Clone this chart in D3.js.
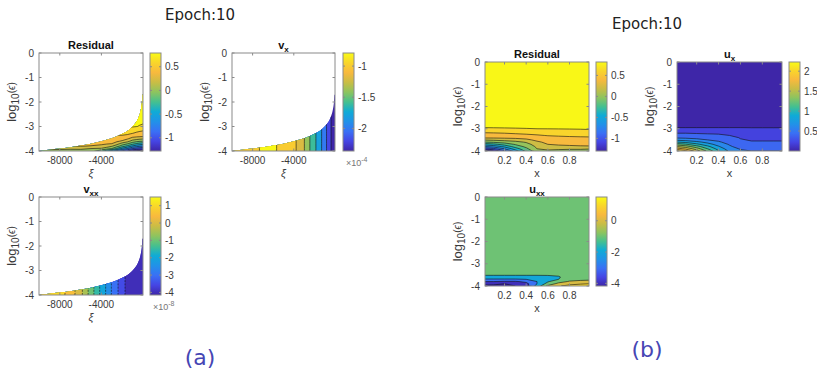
<!DOCTYPE html>
<html>
<head>
<meta charset="utf-8">
<script src="https://cdn.jsdelivr.net/npm/d3@7"></script>
<style>
  body { margin: 0; background: #fff; }
  svg { display: block; font-family: "Liberation Sans", Arial, sans-serif; }
</style>
</head>
<body>
<svg id="chart" width="817" height="371"></svg>
<script>
// parula colour stops (MATLAB default map)
const parula = ["#3e26a8", "#4545e4", "#3a70f5", "#2192e8", "#0fabd6", "#45c08f", "#8dc45f", "#c9bd45", "#f8b93e", "#f9d52b", "#f9fb15"];

// ---- panel (a): stretched variable xi ----
const xiGrid = [-10000, -9000, -8000, -7000, -6000, -5000, -4000, -3500, -3000, -2500, -2000, -1500, -1000, -600, -300, 0];
const epsGridA = [0, -2, -2.8, -3.0, -3.1, -3.2, -3.3, -3.4, -3.5, -3.6, -3.7, -3.8, -3.9, -4];
// left edge of the stretched domain (xi, log10 eps)
const edgeXi = [-10000, -9000, -8000, -7000, -6000, -5000, -4000, -3000, -2000, -1500, -1000, -700, -500, -300, -200, -100, -50, 0];
const edgeEps = [-4, -3.95, -3.9, -3.85, -3.78, -3.7, -3.6, -3.48, -3.3, -3.18, -3.0, -2.85, -2.7, -2.48, -2.3, -2.0, -1.7, -1.7];

const residualA = [
  [0.82, 0.82, 0.82, 0.82, 0.82, 0.82, 0.82, 0.82, 0.82, 0.82, 0.82, 0.82, 0.82, 0.82, 0.82, 0.82],
  [0.82, 0.82, 0.82, 0.82, 0.82, 0.82, 0.82, 0.82, 0.82, 0.82, 0.82, 0.82, 0.82, 0.82, 0.82, 0.82],
  [0.81, 0.81, 0.81, 0.81, 0.81, 0.81, 0.81, 0.81, 0.81, 0.81, 0.81, 0.81, 0.81, 0.81, 0.81, 0.81],
  [0.805, 0.805, 0.805, 0.805, 0.805, 0.805, 0.805, 0.805, 0.805, 0.805, 0.805, 0.805, 0.805, 0.801, 0.796, 0.79],
  [0.79, 0.79, 0.79, 0.79, 0.79, 0.79, 0.79, 0.79, 0.79, 0.79, 0.79, 0.79, 0.78, 0.757, 0.735, 0.72],
  [0.71, 0.71, 0.71, 0.71, 0.71, 0.71, 0.71, 0.71, 0.71, 0.71, 0.71, 0.71, 0.68, 0.63, 0.6, 0.57],
  [0.64, 0.64, 0.64, 0.64, 0.64, 0.64, 0.64, 0.64, 0.64, 0.64, 0.64, 0.625, 0.58, 0.53, 0.505, 0.5],
  [0.58, 0.58, 0.58, 0.58, 0.58, 0.58, 0.58, 0.58, 0.58, 0.575, 0.57, 0.54, 0.46, 0.44, 0.43, 0.42],
  [0.53, 0.53, 0.53, 0.53, 0.53, 0.53, 0.53, 0.53, 0.525, 0.51, 0.49, 0.42, 0.31, 0.27, 0.24, 0.22],
  [0.5, 0.5, 0.5, 0.5, 0.5, 0.5, 0.49, 0.48, 0.465, 0.43, 0.37, 0.27, 0.11, 0.05, 0.02, 0.0],
  [0.47, 0.47, 0.47, 0.47, 0.47, 0.46, 0.44, 0.42, 0.4, 0.28, 0.12, 0.02, -0.12, -0.22, -0.27, -0.3],
  [0.42, 0.42, 0.42, 0.42, 0.41, 0.39, 0.35, 0.3, 0.22, 0.08, -0.1, -0.25, -0.43, -0.52, -0.57, -0.6],
  [0.25, 0.25, 0.23, 0.22, 0.22, 0.2, 0.18, 0.1, 0.0, -0.22, -0.45, -0.6, -0.8, -0.88, -0.92, -0.95],
  [0.13, 0.14, 0.15, 0.15, 0.16, 0.12, -0.15, -0.32, -0.5, -0.68, -0.85, -1.0, -1.2, -1.25, -1.28, -1.3]
];
// v_x and v_xx only change along xi (x 1e-4 and x 1e-8)
const vxProfile = [-0.9, -0.85, -0.81, -0.795, -0.79, -0.82, -0.95, -1.06, -1.19, -1.38, -1.55, -1.72, -1.92, -2.1, -2.24, -2.36];
const vxxProfile = [1.5, 1.4, 1.2, 0.8, 0.15, -0.75, -1.65, -2.08, -2.54, -2.92, -3.32, -3.65, -3.85, -3.95, -3.98, -3.99];

// ---- panel (b): original variable x ----
const xGridB = [0.02, 0.1, 0.2, 0.3, 0.4, 0.5, 0.6, 0.7, 0.8, 0.9, 0.98];
const epsGridB = [0, -1, -2, -2.6, -2.9, -3.0, -3.1, -3.2, -3.3, -3.4, -3.5, -3.6, -3.7, -3.8, -3.9, -4];

const residualB = [
  [0.82, 0.82, 0.82, 0.82, 0.82, 0.82, 0.82, 0.82, 0.82, 0.82, 0.82],
  [0.82, 0.82, 0.82, 0.82, 0.82, 0.82, 0.82, 0.82, 0.82, 0.82, 0.82],
  [0.82, 0.82, 0.82, 0.82, 0.82, 0.82, 0.82, 0.82, 0.82, 0.82, 0.82],
  [0.82, 0.82, 0.82, 0.82, 0.82, 0.82, 0.82, 0.82, 0.82, 0.82, 0.82],
  [0.81, 0.81, 0.81, 0.81, 0.81, 0.81, 0.81, 0.81, 0.81, 0.81, 0.81],
  [0.79, 0.792, 0.794, 0.796, 0.798, 0.80, 0.801, 0.802, 0.803, 0.804, 0.805],
  [0.72, 0.725, 0.73, 0.74, 0.75, 0.76, 0.77, 0.775, 0.78, 0.785, 0.79],
  [0.57, 0.58, 0.6, 0.62, 0.64, 0.66, 0.68, 0.69, 0.7, 0.71, 0.72],
  [0.5, 0.5, 0.51, 0.53, 0.55, 0.58, 0.61, 0.62, 0.63, 0.64, 0.64],
  [0.43, 0.43, 0.44, 0.45, 0.46, 0.5, 0.54, 0.56, 0.57, 0.575, 0.58],
  [0.22, 0.24, 0.27, 0.3, 0.36, 0.44, 0.48, 0.5, 0.51, 0.52, 0.53],
  [0.0, 0.03, 0.08, 0.14, 0.22, 0.37, 0.44, 0.46, 0.47, 0.48, 0.49],
  [-0.3, -0.25, -0.12, 0.02, 0.12, 0.3, 0.4, 0.42, 0.43, 0.44, 0.45],
  [-0.6, -0.52, -0.35, -0.12, 0.05, 0.24, 0.34, 0.36, 0.37, 0.38, 0.38],
  [-0.95, -0.85, -0.6, -0.3, -0.05, 0.2, 0.25, 0.23, 0.22, 0.22, 0.21],
  [-1.3, -1.2, -0.85, -0.5, -0.15, 0.12, 0.16, 0.15, 0.14, 0.14, 0.13]
];
const uxB = [
  [0.03, 0.03, 0.03, 0.03, 0.03, 0.03, 0.03, 0.03, 0.03, 0.03, 0.03],
  [0.03, 0.03, 0.03, 0.03, 0.03, 0.03, 0.03, 0.03, 0.03, 0.03, 0.03],
  [0.03, 0.03, 0.03, 0.03, 0.03, 0.03, 0.03, 0.03, 0.03, 0.03, 0.03],
  [0.04, 0.04, 0.04, 0.04, 0.04, 0.04, 0.04, 0.04, 0.04, 0.04, 0.04],
  [0.15, 0.15, 0.15, 0.15, 0.15, 0.15, 0.15, 0.15, 0.15, 0.15, 0.15],
  [0.25, 0.25, 0.25, 0.25, 0.25, 0.25, 0.25, 0.24, 0.24, 0.24, 0.24],
  [0.32, 0.32, 0.31, 0.31, 0.3, 0.3, 0.29, 0.28, 0.28, 0.28, 0.28],
  [0.4, 0.4, 0.39, 0.38, 0.37, 0.35, 0.33, 0.31, 0.31, 0.31, 0.31],
  [0.47, 0.47, 0.46, 0.45, 0.44, 0.4, 0.36, 0.34, 0.34, 0.34, 0.34],
  [0.57, 0.56, 0.54, 0.52, 0.5, 0.45, 0.39, 0.37, 0.37, 0.37, 0.37],
  [0.75, 0.72, 0.66, 0.6, 0.55, 0.48, 0.41, 0.39, 0.39, 0.39, 0.39],
  [1.0, 0.95, 0.85, 0.74, 0.63, 0.52, 0.44, 0.41, 0.41, 0.41, 0.41],
  [1.3, 1.22, 1.05, 0.88, 0.72, 0.58, 0.47, 0.44, 0.44, 0.44, 0.44],
  [1.6, 1.5, 1.28, 1.05, 0.82, 0.63, 0.52, 0.49, 0.49, 0.49, 0.49],
  [1.9, 1.75, 1.5, 1.2, 0.92, 0.7, 0.58, 0.55, 0.55, 0.55, 0.55],
  [2.23, 2.05, 1.7, 1.35, 1.02, 0.76, 0.64, 0.6, 0.6, 0.6, 0.6]
];
const uxxB = [
  [-0.05, -0.05, -0.05, -0.05, -0.05, -0.05, -0.05, -0.05, -0.05, -0.05, -0.05],
  [-0.05, -0.05, -0.05, -0.05, -0.05, -0.05, -0.05, -0.05, -0.05, -0.05, -0.05],
  [-0.05, -0.05, -0.05, -0.05, -0.05, -0.05, -0.05, -0.05, -0.05, -0.05, -0.05],
  [-0.05, -0.05, -0.05, -0.05, -0.05, -0.05, -0.05, -0.05, -0.05, -0.05, -0.05],
  [-0.05, -0.05, -0.05, -0.05, -0.05, -0.05, -0.05, -0.05, -0.05, -0.05, -0.05],
  [-0.05, -0.05, -0.05, -0.05, -0.05, -0.05, -0.05, -0.05, -0.05, -0.05, -0.05],
  [-0.05, -0.05, -0.05, -0.05, -0.05, -0.05, -0.05, -0.05, -0.05, -0.05, -0.05],
  [-0.05, -0.05, -0.05, -0.05, -0.05, -0.05, -0.05, -0.05, -0.05, -0.05, -0.05],
  [-0.1, -0.1, -0.1, -0.1, -0.1, -0.1, -0.1, -0.1, -0.1, -0.1, -0.1],
  [-0.3, -0.3, -0.3, -0.3, -0.3, -0.3, -0.3, -0.3, -0.2, -0.15, -0.15],
  [-0.9, -0.9, -0.9, -0.9, -0.9, -0.9, -0.9, -0.85, -0.4, -0.3, -0.25],
  [-1.4, -1.4, -1.4, -1.4, -1.4, -1.4, -1.3, -1.1, -0.5, -0.35, -0.3],
  [-2.1, -2.1, -2.1, -2.1, -2.0, -1.8, -1.3, -1.0, -0.4, -0.2, -0.15],
  [-3.0, -3.0, -3.1, -3.1, -2.8, -2.0, -1.1, -0.4, 0.1, 0.2, 0.25],
  [-3.8, -3.9, -4.0, -4.0, -3.3, -2.0, -0.6, 0.3, 0.7, 0.9, 1.0],
  [-4.17, -4.1, -4.1, -4.0, -3.4, -1.6, 0.2, 0.9, 1.3, 1.5, 1.52]
];

// contour levels and colour limits
const residualLevels = [-1.2, -1.0, -0.8, -0.6, -0.4, -0.2, 0, 0.2, 0.4, 0.6, 0.8];
const vxLevels = [-2.2, -2.0, -1.8, -1.6, -1.4, -1.2, -1.0, -0.8];
const vxxLevels = [-4, -3.5, -3, -2.5, -2, -1.5, -1, -0.5, 0, 0.5, 1];
const uxLevels = [0.2, 0.4, 0.6, 0.8, 1.0, 1.2, 1.4, 1.6, 1.8, 2.0, 2.2];
const uxxLevels = [-4, -3, -2, -1, 0, 1];

const svg = d3.select("#chart");
const cmap = d3.piecewise(d3.interpolateRgb, parula);
const axisGrey = "#8a8a8a";
const textGrey = "#3a3a3a";

// gradient used by every colorbar
const grad = svg.append("defs").append("linearGradient")
  .attr("id", "parulaGrad").attr("x1", 0).attr("y1", 1).attr("x2", 0).attr("y2", 0);
parula.forEach((c, i) => grad.append("stop").attr("offset", i / (parula.length - 1)).attr("stop-color", c));

let clipCount = 0;

function drawPanel(p) {
  const g = svg.append("g");
  const x = d3.scaleLinear().domain(p.xDomain).range([p.x0, p.x1]);
  const y = d3.scaleLinear().domain([-4, 0]).range([p.y1, p.y0]);
  const color = d3.scaleSequential(cmap).domain(p.cRange).clamp(true);

  // grid index -> data position (value k sits at k + 0.5 in d3.contours space)
  const gx = d3.scaleLinear().domain(p.xs.map((_, i) => i + 0.5)).range(p.xs.map(v => x(v)));
  const gy = d3.scaleLinear().domain(p.ys.map((_, j) => j + 0.5)).range(p.ys.map(v => y(v)));
  const path = d3.geoPath(d3.geoTransform({
    point(a, b) { this.stream.point(gx(a), gy(b)); }
  }));

  const id = "clip" + (clipCount++);
  const cp = svg.select("defs").append("clipPath").attr("id", id);
  if (p.edge) {
    const pts = p.edge.xi.map((v, i) => [x(v), y(p.edge.eps[i])]);
    pts.push([x(0), y(-4)]);
    cp.append("path").attr("d", d3.line().curve(d3.curveMonotoneX)(pts.slice(0, -1)) + "L" + pts[pts.length - 1].join(",") + "Z");
  } else {
    cp.append("rect").attr("x", p.x0).attr("y", p.y0).attr("width", p.x1 - p.x0).attr("height", p.y1 - p.y0);
  }

  const contours = d3.contours().size([p.xs.length, p.ys.length]).thresholds(p.levels)(p.z.flat());

  const body = g.append("g").attr("clip-path", `url(#${id})`);
  body.append("rect").attr("x", p.x0).attr("y", p.y0).attr("width", p.x1 - p.x0).attr("height", p.y1 - p.y0)
    .attr("fill", color(p.cRange[0]));
  body.selectAll("path.band").data(contours).join("path").attr("class", "band")
    .attr("d", path).attr("fill", d => color(d.value)).attr("stroke", "none");
  body.selectAll("path.iso").data(contours).join("path").attr("class", "iso")
    .attr("d", path).attr("fill", "none").attr("stroke", "#111").attr("stroke-width", 0.6)
    .attr("stroke-dasharray", p.dashed ? "2,1.2" : null);

  // box with inward ticks
  g.append("rect").attr("x", p.x0).attr("y", p.y0).attr("width", p.x1 - p.x0).attr("height", p.y1 - p.y0)
    .attr("fill", "none").attr("stroke", axisGrey).attr("stroke-width", 1);
  const tl = 2.5;
  p.xTicks.forEach(t => {
    g.append("line").attr("x1", x(t)).attr("x2", x(t)).attr("y1", p.y1).attr("y2", p.y1 - tl).attr("stroke", axisGrey);
    g.append("line").attr("x1", x(t)).attr("x2", x(t)).attr("y1", p.y0).attr("y2", p.y0 + tl).attr("stroke", axisGrey);
    g.append("text").attr("x", x(t)).attr("y", p.y1 + 13).attr("text-anchor", "middle")
      .attr("font-size", 10).attr("fill", textGrey).text(String(t));
  });
  const yTicks = [0, -1, -2, -3, -4];
  yTicks.forEach(t => {
    g.append("line").attr("x1", p.x0).attr("x2", p.x0 + tl).attr("y1", y(t)).attr("y2", y(t)).attr("stroke", axisGrey);
    g.append("line").attr("x1", p.x1).attr("x2", p.x1 - tl).attr("y1", y(t)).attr("y2", y(t)).attr("stroke", axisGrey);
    g.append("text").attr("x", p.x0 - 5).attr("y", y(t)).attr("dy", "0.35em").attr("text-anchor", "end")
      .attr("font-size", 10).attr("fill", textGrey).text(String(t));
  });

  // labels
  const xl = g.append("text").attr("x", (p.x0 + p.x1) / 2).attr("y", p.y1 + 26).attr("text-anchor", "middle")
    .attr("font-size", 11).attr("fill", textGrey).text(p.xLabel);
  if (p.xLabel === "\u03be") xl.attr("font-style", "italic");
  const yl = g.append("text").attr("transform", `translate(${p.x0 - 23},${(p.y0 + p.y1) / 2}) rotate(-90)`)
    .attr("text-anchor", "middle").attr("font-size", 13).attr("fill", textGrey);
  yl.append("tspan").text("log");
  yl.append("tspan").attr("font-size", 10).attr("dy", 3).text("10");
  yl.append("tspan").attr("font-size", 10).attr("dy", -4).text("(");
  yl.append("tspan").attr("font-size", 10).attr("font-style", "italic").text("\u03f5");
  yl.append("tspan").attr("font-size", 10).text(")");

  const tt = g.append("text").attr("x", (p.x0 + p.x1) / 2).attr("y", p.y0 - 4).attr("text-anchor", "middle")
    .attr("font-size", 11).attr("font-weight", "bold").attr("fill", "#111");
  tt.append("tspan").text(p.title);
  if (p.sub) tt.append("tspan").attr("font-size", 8).attr("dy", 3).text(p.sub);

  // colorbar
  const cy = d3.scaleLinear().domain(p.cRange).range([p.y1, p.y0]);
  g.append("rect").attr("x", p.cb0).attr("y", p.y0).attr("width", p.cb1 - p.cb0).attr("height", p.y1 - p.y0)
    .attr("fill", "url(#parulaGrad)").attr("stroke", axisGrey).attr("stroke-width", 1);
  p.cTicks.forEach(t => {
    g.append("line").attr("x1", p.cb1).attr("x2", p.cb1 - 2).attr("y1", cy(t)).attr("y2", cy(t)).attr("stroke", axisGrey);
    g.append("line").attr("x1", p.cb0).attr("x2", p.cb0 + 2).attr("y1", cy(t)).attr("y2", cy(t)).attr("stroke", axisGrey);
    g.append("text").attr("x", p.cb1 + 4).attr("y", cy(t)).attr("dy", "0.35em")
      .attr("font-size", 10).attr("fill", textGrey).text(String(t));
  });
  if (p.cExp) {
    const ex = g.append("text").attr("x", p.cb0 + 3).attr("y", p.y1 + 15)
      .attr("font-size", 9).attr("fill", "#777");
    ex.append("tspan").text("\u00d710");
    ex.append("tspan").attr("font-size", 7).attr("dy", -4).text(p.cExp);
  }
}

const rowsOf = prof => epsGridA.map(() => prof.slice());

const panels = [
  { x0: 39, x1: 143, y0: 53, y1: 151, cb0: 150, cb1: 161, xDomain: [-10000, 0], xs: xiGrid, ys: epsGridA,
    z: residualA, levels: residualLevels, cRange: [-1.28, 0.79], cTicks: [-1, -0.5, 0, 0.5],
    edge: { xi: edgeXi, eps: edgeEps }, xTicks: [-8000, -4000], xLabel: "\u03be", title: "Residual" },
  { x0: 232, x1: 335, y0: 53, y1: 151, cb0: 343, cb1: 354, xDomain: [-10000, 0], xs: xiGrid, ys: epsGridA,
    z: rowsOf(vxProfile), levels: vxLevels, cRange: [-2.36, -0.79], cTicks: [-2, -1.5, -1], cExp: "-4",
    edge: { xi: edgeXi, eps: edgeEps }, xTicks: [-8000, -4000], xLabel: "\u03be", title: "v", sub: "x" },
  { x0: 39, x1: 143, y0: 197, y1: 295, cb0: 150, cb1: 161, xDomain: [-10000, 0], xs: xiGrid, ys: epsGridA,
    z: rowsOf(vxxProfile), levels: vxxLevels, cRange: [-4.15, 1.5], cTicks: [-4, -3, -2, -1, 0, 1], cExp: "-8",
    edge: { xi: edgeXi, eps: edgeEps }, xTicks: [-8000, -4000], xLabel: "\u03be", title: "v", sub: "xx", dashed: true },
  { x0: 485, x1: 589, y0: 62, y1: 151, cb0: 596, cb1: 607, xDomain: [0.02, 0.98], xs: xGridB, ys: epsGridB,
    z: residualB, levels: residualLevels, cRange: [-1.3, 0.82], cTicks: [-1, -0.5, 0, 0.5],
    xTicks: [0.2, 0.4, 0.6, 0.8], xLabel: "x", title: "Residual" },
  { x0: 677, x1: 782, y0: 62, y1: 151, cb0: 789, cb1: 800, xDomain: [0.02, 0.98], xs: xGridB, ys: epsGridB,
    z: uxB, levels: uxLevels, cRange: [0.0, 2.23], cTicks: [0.5, 1, 1.5, 2],
    xTicks: [0.2, 0.4, 0.6, 0.8], xLabel: "x", title: "u", sub: "x" },
  { x0: 485, x1: 589, y0: 197, y1: 286, cb0: 596, cb1: 607, xDomain: [0.02, 0.98], xs: xGridB, ys: epsGridB,
    z: uxxB, levels: uxxLevels, cRange: [-4.17, 1.52], cTicks: [-4, -2, 0],
    xTicks: [0.2, 0.4, 0.6, 0.8], xLabel: "x", title: "u", sub: "xx" }
];
panels.forEach(drawPanel);

// figure titles and captions
svg.append("text").attr("x", 200).attr("y", 20).attr("text-anchor", "middle")
  .attr("font-family", "DejaVu Sans").attr("font-size", 15).attr("fill", "#222").text("Epoch:10");
svg.append("text").attr("x", 647).attr("y", 29).attr("text-anchor", "middle")
  .attr("font-family", "DejaVu Sans").attr("font-size", 15).attr("fill", "#222").text("Epoch:10");
svg.append("text").attr("x", 200).attr("y", 365).attr("text-anchor", "middle")
  .attr("font-family", "DejaVu Sans").attr("font-size", 22).attr("fill", "#4646b4").text("(a)");
svg.append("text").attr("x", 647).attr("y", 357).attr("text-anchor", "middle")
  .attr("font-family", "DejaVu Sans").attr("font-size", 22).attr("fill", "#4646b4").text("(b)");
</script>
</body>
</html>
